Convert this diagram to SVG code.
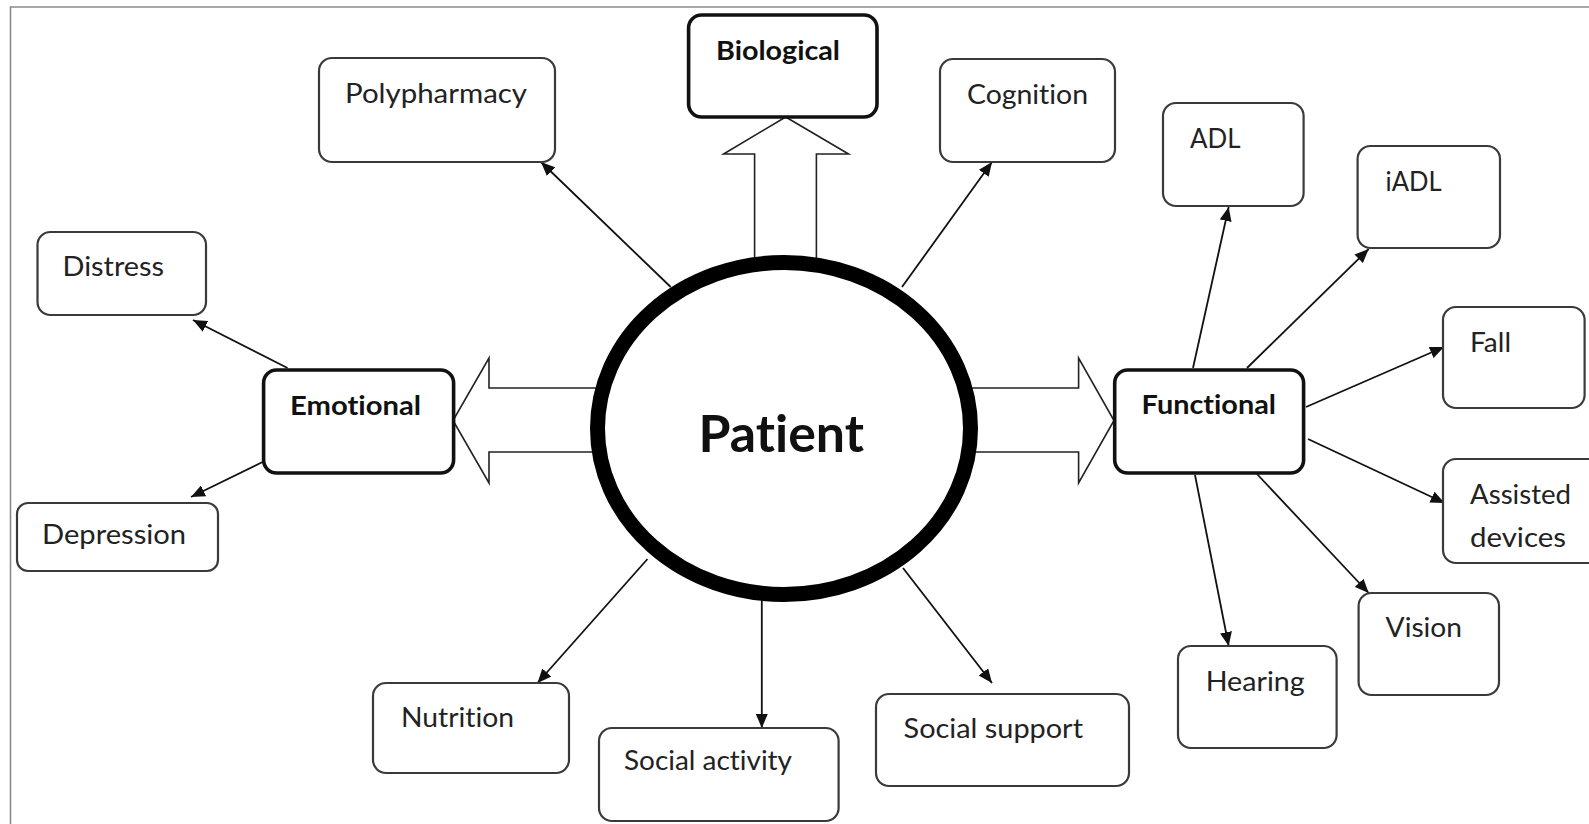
<svg xmlns="http://www.w3.org/2000/svg" width="1589" height="824" viewBox="0 0 1589 824">
  <style>
    .box { fill: #fff; stroke: #3a3a3a; stroke-width: 2.2; }
    .main { fill: #fff; stroke: #111; stroke-width: 3.6; }
    .lbl { font-family: Lato, "Open Sans", "Liberation Sans", sans-serif; font-size: 26px; fill: #222; font-variant-ligatures: none; font-feature-settings: "liga" 0, "clig" 0; }
    .bold { font-weight: bold; font-size: 27px; fill: #111; }
    .conn { stroke: #111; stroke-width: 1.8; fill: none; marker-end: url(#head); }
    .block { fill: #fff; stroke: #222; stroke-width: 1.6; stroke-linejoin: miter; }
  </style>
  <defs>
    <marker id="head" markerUnits="userSpaceOnUse" markerWidth="15" markerHeight="12" refX="14" refY="6" orient="auto">
      <path d="M0,0 L14,6 L0,12 Z" fill="#111"/>
    </marker>
  </defs>

  <rect width="1589" height="824" fill="#fff"/>
  <!-- outer frame -->
  <path d="M10.5,824 V7 H1589" fill="none" stroke="#8a8a8a" stroke-width="1.6"/>

  <!-- hollow block arrows leaving the patient circle -->
  <g id="block-arrows">
    <path class="block" d="M754.6,275 V154 H723.6 L785.7,117 L848.6,154 H816.4 V275 Z"/>
    <path class="block" d="M610,388 H489 V358 L453,420.5 L489,483 V452 H610 Z"/>
    <path class="block" d="M960,388 H1078.6 V358 L1114,420.5 L1078.6,483 V452 H960 Z"/>
  </g>

  <!-- connectors -->
  <g id="connectors">
    <line class="conn" x1="670.7" y1="287" x2="541" y2="162"/>
    <line class="conn" x1="902" y1="287" x2="992" y2="162"/>
    <line class="conn" x1="287.5" y1="368" x2="193" y2="320"/>
    <line class="conn" x1="262.5" y1="462" x2="191" y2="497"/>
    <line class="conn" x1="1193" y1="368" x2="1228.7" y2="207"/>
    <line class="conn" x1="1247" y1="368" x2="1368.7" y2="249"/>
    <line class="conn" x1="1306" y1="407" x2="1444" y2="347"/>
    <line class="conn" x1="1308" y1="439" x2="1444.6" y2="503"/>
    <line class="conn" x1="1195" y1="475" x2="1228.7" y2="646"/>
    <line class="conn" x1="1257" y1="474" x2="1368.7" y2="593"/>
    <line class="conn" x1="647.5" y1="559" x2="537.5" y2="683"/>
    <line class="conn" x1="761.8" y1="600" x2="761.8" y2="728"/>
    <line class="conn" x1="903" y1="568" x2="992" y2="683"/>
  </g>

  <!-- central node -->
  <g id="patient">
    <ellipse cx="784" cy="428.5" rx="186.5" ry="166" fill="#fff" stroke="#000" stroke-width="15"/>
    <text class="lbl bold" x="698.6" y="451.7" style="font-size:52px" textLength="165.4" lengthAdjust="spacingAndGlyphs">Patient</text>
  </g>

  <!-- domain nodes -->
  <g id="biological">
    <rect class="main" x="688.6" y="15" width="188.4" height="102" rx="13"/>
    <text class="lbl bold" x="716" y="60" textLength="124" lengthAdjust="spacingAndGlyphs">Biological</text>
  </g>
  <g id="emotional">
    <rect class="main" x="263.6" y="370" width="190" height="103" rx="13"/>
    <text class="lbl bold" x="290" y="415" textLength="131" lengthAdjust="spacingAndGlyphs">Emotional</text>
  </g>
  <g id="functional">
    <rect class="main" x="1114.7" y="370" width="188.9" height="103" rx="13"/>
    <text class="lbl bold" x="1141.6" y="414" textLength="134.4" lengthAdjust="spacingAndGlyphs">Functional</text>
  </g>

  <!-- outcome nodes -->
  <g id="polypharmacy">
    <rect class="box" x="319" y="58" width="236" height="104" rx="13"/>
    <text class="lbl" x="345" y="103" textLength="182" lengthAdjust="spacingAndGlyphs">Polypharmacy</text>
  </g>
  <g id="cognition">
    <rect class="box" x="940" y="59" width="175" height="103" rx="13"/>
    <text class="lbl" x="967" y="104" textLength="121" lengthAdjust="spacingAndGlyphs">Cognition</text>
  </g>
  <g id="distress">
    <rect class="box" x="37.5" y="232" width="168.5" height="83" rx="13"/>
    <text class="lbl" x="62.5" y="276" textLength="101.5" lengthAdjust="spacingAndGlyphs">Distress</text>
  </g>
  <g id="depression">
    <rect class="box" x="17" y="503" width="201" height="68" rx="11"/>
    <text class="lbl" x="42" y="544" textLength="144" lengthAdjust="spacingAndGlyphs">Depression</text>
  </g>
  <g id="adl">
    <rect class="box" x="1163" y="103" width="140.6" height="103" rx="13"/>
    <text class="lbl" x="1190" y="148" textLength="50.5" lengthAdjust="spacingAndGlyphs">ADL</text>
  </g>
  <g id="iadl">
    <rect class="box" x="1357.6" y="146" width="142.4" height="102" rx="13"/>
    <text class="lbl" x="1385.6" y="191" textLength="56" lengthAdjust="spacingAndGlyphs">iADL</text>
  </g>
  <g id="fall">
    <rect class="box" x="1443" y="307" width="141.6" height="101" rx="13"/>
    <text class="lbl" x="1470" y="352" textLength="41" lengthAdjust="spacingAndGlyphs">Fall</text>
  </g>
  <g id="assisted-devices">
    <rect class="box" x="1443" y="459" width="160" height="104" rx="13"/>
    <text class="lbl" x="1470" y="504" textLength="101" lengthAdjust="spacingAndGlyphs">Assisted</text>
    <text class="lbl" x="1470" y="547" textLength="96" lengthAdjust="spacingAndGlyphs">devices</text>
  </g>
  <g id="vision">
    <rect class="box" x="1358.6" y="593" width="140.4" height="102" rx="13"/>
    <text class="lbl" x="1385.6" y="637" textLength="76.4" lengthAdjust="spacingAndGlyphs">Vision</text>
  </g>
  <g id="hearing">
    <rect class="box" x="1178" y="646" width="158.6" height="102" rx="13"/>
    <text class="lbl" x="1205.7" y="691" textLength="99" lengthAdjust="spacingAndGlyphs">Hearing</text>
  </g>
  <g id="nutrition">
    <rect class="box" x="373" y="683" width="196" height="90" rx="13"/>
    <text class="lbl" x="401" y="727" textLength="113" lengthAdjust="spacingAndGlyphs">Nutrition</text>
  </g>
  <g id="social-activity">
    <rect class="box" x="599" y="728" width="239.6" height="93" rx="13"/>
    <text class="lbl" x="624" y="770" textLength="168" lengthAdjust="spacingAndGlyphs">Social activity</text>
  </g>
  <g id="social-support">
    <rect class="box" x="876" y="694" width="253" height="92" rx="13"/>
    <text class="lbl" x="903.6" y="738" textLength="179.4" lengthAdjust="spacingAndGlyphs">Social support</text>
  </g>
</svg>
